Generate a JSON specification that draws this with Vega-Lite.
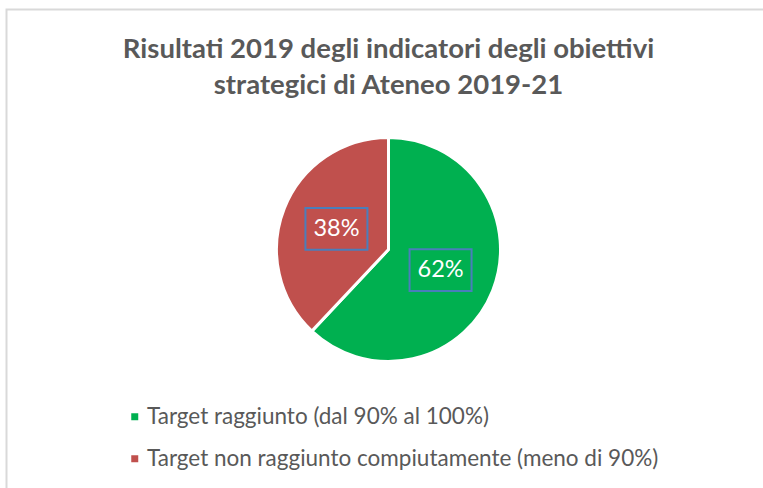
{
  "$schema": "https://vega.github.io/schema/vega-lite/v6.json",
  "width": 764,
  "height": 480,
  "autosize": "none",
  "padding": {"left": 6.5, "top": 9.5, "right": 0, "bottom": 0},
  "background": "white",
  "view": {"stroke": "#D9D9D9", "strokeWidth": 2},
  "title": {
    "text": ["Risultati 2019 degli indicatori degli obiettivi", "strategici di Ateneo 2019-21"],
    "font": "Lato",
    "fontSize": 27.5,
    "fontWeight": "bold",
    "color": "#595959",
    "anchor": "middle",
    "frame": "group",
    "offset": -90,
    "lineHeight": 36
  },
  "data": {
    "values": [
      {"categoria": "Target raggiunto (dal 90% al 100%)", "valore": 62, "etichetta": "62%", "rank": 1},
      {"categoria": "Target non raggiunto compiutamente (meno di 90%)", "valore": 38, "etichetta": "38%", "rank": 2}
    ]
  },
  "layer": [
    {
      "mark": {"type": "arc", "outerRadius": 112, "stroke": "white", "strokeWidth": 3},
      "encoding": {
        "theta": {"field": "valore", "type": "quantitative", "stack": true},
        "order": {"field": "rank", "type": "quantitative"},
        "color": {
          "field": "categoria",
          "type": "nominal",
          "scale": {
            "domain": ["Target raggiunto (dal 90% al 100%)", "Target non raggiunto compiutamente (meno di 90%)"],
            "range": ["#00B050", "#C0504D"]
          },
          "legend": {
            "title": null,
            "orient": "none",
            "legendX": 117,
            "legendY": 396,
            "direction": "vertical",
            "symbolType": "square",
            "symbolSize": 49,
            "symbolStrokeWidth": 0,
            "labelFont": "Lato",
            "labelFontSize": 22.5,
            "labelColor": "#595959",
            "labelOffset": 1,
            "labelLimit": 700,
            "rowPadding": 19,
            "padding": 0
          }
        }
      }
    },
    {
      "transform": [
        {"stack": "valore", "groupby": [], "sort": [{"field": "rank", "order": "ascending"}], "as": ["v0", "v1"]}
      ],
      "mark": {
        "type": "point",
        "shape": "M-1,-0.67H1V0.67H-1Z",
        "size": 3844,
        "filled": false,
        "stroke": "#4A7EBB",
        "strokeWidth": 2,
        "opacity": 1,
        "x": {"expr": "width/2 + 56*sin(scale('theta', (datum.v0+datum.v1)/2))"},
        "y": {"expr": "height/2 - 56*cos(scale('theta', (datum.v0+datum.v1)/2))"}
      }
    },
    {
      "mark": {"type": "text", "radius": 56, "font": "Lato", "fontSize": 23.5, "color": "white", "baseline": "middle", "align": "center"},
      "encoding": {
        "theta": {"field": "valore", "type": "quantitative", "stack": true},
        "order": {"field": "rank", "type": "quantitative"},
        "text": {"field": "etichetta", "type": "nominal"}
      }
    }
  ]
}
